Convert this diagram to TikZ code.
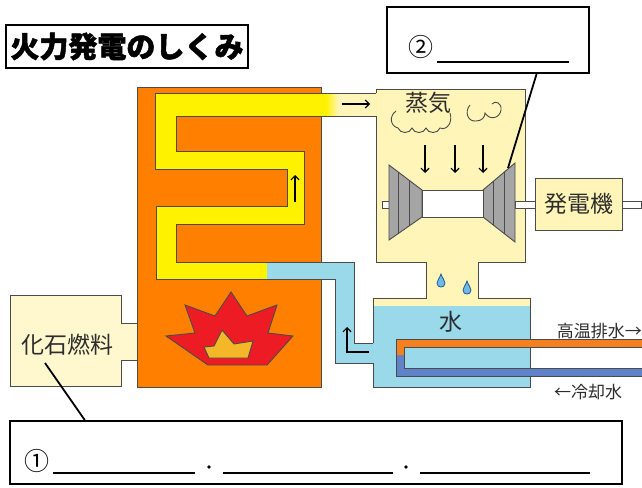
\documentclass[tikz,border=0pt]{standalone}
\usepackage{fontspec}
\newfontfamily\jp{Noto Sans CJK JP}[BoldFeatures={FakeBold=1.6}]
\usetikzlibrary{arrows.meta}

\definecolor{boiler}{RGB}{255,127,0}
\definecolor{pipe}{RGB}{255,242,0}
\definecolor{steamc}{RGB}{255,245,185}
\definecolor{fuelc}{RGB}{255,247,205}
\definecolor{water}{RGB}{153,217,234}
\definecolor{flame}{RGB}{237,28,36}
\definecolor{crown}{RGB}{243,183,40}
\definecolor{hotpipe}{RGB}{245,128,32}
\definecolor{coldpipe}{RGB}{95,130,200}
\definecolor{linegray}{RGB}{75,75,75}
\definecolor{blade}{RGB}{165,165,165}
\definecolor{drop}{RGB}{110,185,230}
\definecolor{dropline}{RGB}{30,90,150}
\definecolor{txt}{RGB}{45,45,45}

\begin{document}
\begin{tikzpicture}[x=1pt,y=-1pt,
    rim/.style={draw=linegray, line width=0.9pt},
    answerbox/.style={draw, line width=2pt, inner sep=0pt},
    jplabel/.style={text=txt, inner sep=0pt, font=\jp\fontsize{23}{23}\selectfont},
    flow/.style={-{Straight Barb[length=4pt,width=8pt]}, line width=1.2pt},
    leader/.style={line width=1.8pt}]
    \useasboundingbox (0,0) rectangle (642,487);

    % Fuel store
    \filldraw[fill=fuelc, rim] (137,323) -- (121,323) -- (121,295) -- (10,295) -- (10,386) -- (121,386) -- (121,360) -- (137,360);
    \node[jplabel] (fuel) at (67,345) {化石燃料};

    % Boiler
    \filldraw[fill=boiler, rim] (137,87) rectangle (321,387);

    % Flame
    \filldraw[fill=flame, rim] (231,292) -- (247,316) -- (277,305) -- (268,333) -- (293,336) -- (267,365) -- (208,365) -- (166,336) -- (195,333) -- (185,305) -- (215,316) -- cycle;
    \filldraw[fill=crown, rim] (204,347) -- (214,346) -- (222,330) -- (234,344) -- (253,341) -- (248,358) -- (209,358) -- cycle;

    % Turbine housing and condenser
    \fill[steamc] (376,89) -- (525,89) -- (525,262) -- (478,262) -- (478,298) -- (530,298) -- (530,387) -- (373,387) -- (373,298) -- (426,298) -- (426,262) -- (376,262) -- cycle;
    \fill[water] (373,306) rectangle (530,387);

    % Water tube through the boiler
    \begin{scope}
        \clip (376,93) -- (155,93) -- (155,169) -- (287,169) -- (287,206) -- (156,206) -- (156,279) -- (335,279) -- (335,363) -- (373,363) -- (373,343) -- (354,343) -- (354,262) -- (176,262) -- (176,224) -- (304,224) -- (304,151) -- (176,151) -- (176,116) -- (376,116) -- cycle;
        \fill[pipe] (150,85) rectangle (380,290);
        \fill[water] (267,255) rectangle (380,370);
        \shade[left color=pipe, right color=steamc] (326,85) rectangle (338,120);
        \fill[steamc] (338,85) rectangle (380,120);
    \end{scope}
    \draw[rim] (376,93) -- (155,93) -- (155,169) -- (287,169) -- (287,206) -- (156,206) -- (156,279) -- (335,279) -- (335,363) -- (373,363);
    \draw[rim] (373,343) -- (354,343) -- (354,262) -- (176,262) -- (176,224) -- (304,224) -- (304,151) -- (176,151) -- (176,116) -- (376,116);

    \draw[rim] (376,93) -- (376,89) -- (525,89) -- (525,262) -- (478,262) -- (478,298) -- (530,298) -- (530,387) -- (373,387) -- (373,363);
    \draw[rim] (373,343) -- (373,298) -- (426,298) -- (426,262) -- (376,262) -- (376,116);

    % Flow arrows
    \draw[flow] (342,104) -- (370,104);
    \draw[flow] (295,202) -- (295,175);
    \draw[flow] (369,352) -- (347,352) -- (347,327);

    % Cooling tube
    \fill[hotpipe] (396,339) rectangle (642,347);
    \fill[hotpipe] (396,347) rectangle (404,355);
    \fill[coldpipe] (396,355) rectangle (404,368);
    \fill[coldpipe] (396,368) rectangle (642,376);
    \draw[rim] (642,339) -- (396,339) -- (396,376) -- (642,376);
    \draw[rim] (642,347) -- (404,347) -- (404,368) -- (642,368);
    \node[jplabel, anchor=east, font=\jp\fontsize{17}{17}\selectfont] (hotout) at (642,331) {高温排水→};
    \node[jplabel, anchor=west, font=\jp\fontsize{17}{17}\selectfont] (coldin) at (554,392) {←冷却水};
    \node[jplabel] (water) at (451,322) {水};

    % Steam
    \node[jplabel] (steam) at (428,103) {蒸気};
    \draw[rim] (396,111) .. controls (389,116) and (390,126) .. (398,128)
        .. controls (400,134) and (410,134) .. (412,128)
        .. controls (414,134) and (424,134) .. (426,128)
        .. controls (428,134) and (438,134) .. (440,128)
        .. controls (447,131) and (453,122) .. (450,113);
    \draw[rim] (470,105) .. controls (464,112) and (468,122) .. (476,121)
        .. controls (482,121) and (485,117) .. (485,113)
        .. controls (490,121) and (500,118) .. (501,110)
        .. controls (502,103) and (495,100) .. (492,104);
    \foreach \x in {425,455,483}
        \draw[flow] (\x,145) -- (\x,173);

    % Turbine
    \filldraw[fill=white, rim] (382,201) rectangle (389,208);
    \filldraw[fill=white, rim] (515,201) rectangle (535,208);
    \filldraw[fill=white, rim] (622,201) rectangle (641,208);
    \filldraw[fill=blade, rim] (389,165) -- (422,190) -- (422,217) -- (389,240) -- cycle;
    \filldraw[fill=blade, rim] (483,190) -- (515,163) -- (515,242) -- (483,217) -- cycle;
    \begin{scope}
        \clip (389,165) -- (422,190) -- (422,217) -- (389,240) -- cycle;
        \foreach \x in {398,409}
            \draw[rim] (\x,150) -- (\x,250);
    \end{scope}
    \begin{scope}
        \clip (483,190) -- (515,163) -- (515,242) -- (483,217) -- cycle;
        \foreach \x in {493,504}
            \draw[rim] (\x,150) -- (\x,250);
    \end{scope}
    \filldraw[fill=white, rim] (422,190) rectangle (483,217);

    % Generator
    \node[jplabel, draw=linegray, line width=0.9pt, fill=steamc, minimum width=87pt, minimum height=52pt] (gen) at (578.5,204) {発電機};

    % Water drops
    \foreach \x/\y in {441/274, 467/281}
        \filldraw[fill=drop, draw=dropline, line width=0.8pt] (\x,\y) .. controls (\x+1,\y+4) and (\x+4,\y+6) .. (\x+4,\y+9)
            .. controls (\x+4,\y+12) and (\x+2,\y+13) .. (\x,\y+13)
            .. controls (\x-2,\y+13) and (\x-4,\y+12) .. (\x-4,\y+9)
            .. controls (\x-4,\y+6) and (\x-1,\y+4) .. cycle;

    % Title
    \node[answerbox, minimum width=242pt, minimum height=43pt, font=\jp\bfseries\fontsize{29}{29}\selectfont] (title) at (127,46.5) {火力発電のしくみ};

    % Answer boxes
    \node[answerbox, fill=white, minimum width=202pt, minimum height=66pt] (blank2) at (488,40) {};
    \node[inner sep=0pt, font=\jp\fontsize{25}{25}\selectfont] (num2) at (421,47) {②};
    \draw[line width=1.6pt] (437,62) -- (569,62);
    \coordinate (turbtip) at (508,168);
    \draw[leader] (blank2.-35.6) -- (turbtip);

    \node[answerbox, fill=white, minimum width=612pt, minimum height=63pt] (blank1) at (316,452.5) {};
    \node[inner sep=0pt, font=\jp\fontsize{25}{25}\selectfont] (num1) at (37,461) {①};
    \draw[line width=1.6pt] (53,473) -- (195,473) (223,473) -- (393,473) (420,473) -- (590,473);
    \fill (209,467) circle (1.8pt) (406,467) circle (1.8pt);
    \coordinate (fueltip) at (45,363);
    \draw[leader] (fueltip) -- (blank1.172.2);
\end{tikzpicture}
\end{document}
